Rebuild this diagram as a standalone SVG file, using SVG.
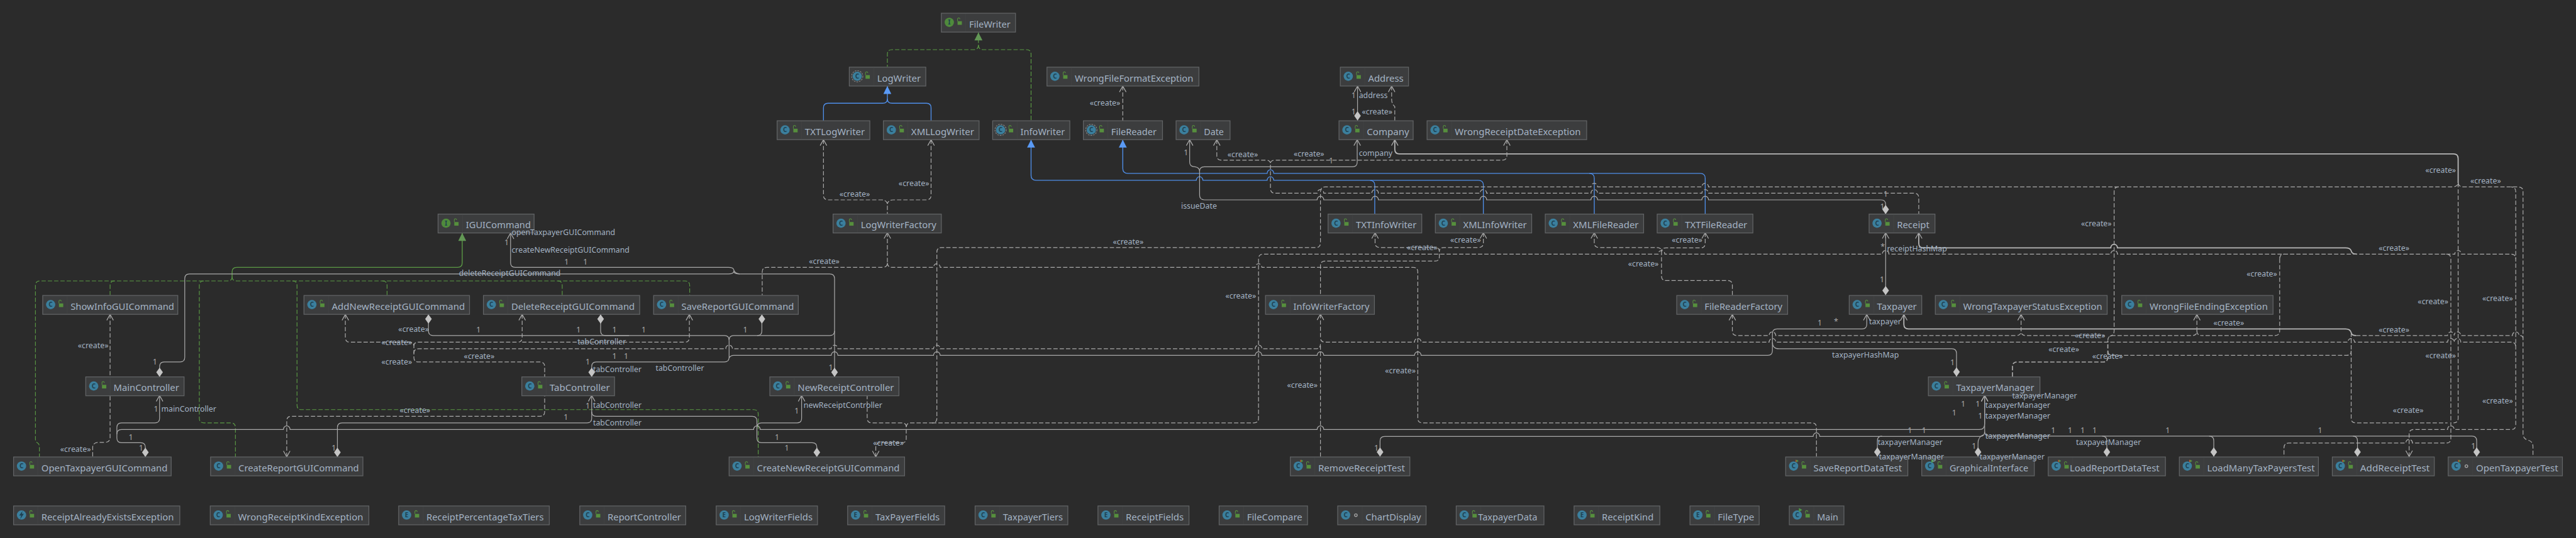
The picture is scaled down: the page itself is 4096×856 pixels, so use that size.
<svg xmlns="http://www.w3.org/2000/svg" width="4096" height="856" viewBox="0 0 4096 856">
<style>
text{font-family:"Noto Sans","Open Sans","Liberation Sans",sans-serif}
.n{fill:#3c3d3e;stroke:#626466;stroke-width:2.4}
.t{font-size:29px;fill:#a4b3c4}
.l{font-size:23.5px;fill:#a4b3c4}
.o{font-size:23.5px;fill:#a9a9a9;text-anchor:middle}
.k{font-size:19px;fill:#1e3f50;text-anchor:middle;font-weight:700}
path{fill:none}
.e{stroke:#a9a9a9;stroke-width:2.3}
.e3{stroke:#b8b8b8;stroke-width:3.4}
.d{stroke:#a9a9a9;stroke-width:2.3;stroke-dasharray:13 6}
.b{stroke:#4f8ee8;stroke-width:2.6}
.g{stroke:#5b9a45;stroke-width:2.6}
.gd{stroke:#5b9a45;stroke-width:2.2;stroke-dasharray:13 6}
.oa{marker-start:url(#oa)}
.di{marker-start:url(#di)}
.tb{marker-start:url(#tb)}
.tg{marker-start:url(#tg)}
</style>
<defs>
<marker id="oa" markerUnits="userSpaceOnUse" orient="auto" refX="0" refY="12" markerWidth="24" markerHeight="24" viewBox="0 0 24 24"><path d="M18 2L0 12L18 22" stroke="#b0b0b0" stroke-width="2.2" fill="none"/></marker>
<marker id="di" markerUnits="userSpaceOnUse" orient="auto" refX="0" refY="11" markerWidth="30" markerHeight="22" viewBox="0 0 30 22"><path d="M0 11L14 1L28 11L14 21Z" style="fill:#c4c4c4"/></marker>
<marker id="tb" markerUnits="userSpaceOnUse" orient="auto" refX="0" refY="12" markerWidth="26" markerHeight="24" viewBox="0 0 26 24"><path d="M0 12L24 0V24Z" style="fill:#5a9af5"/></marker>
<marker id="tg" markerUnits="userSpaceOnUse" orient="auto" refX="0" refY="12" markerWidth="26" markerHeight="24" viewBox="0 0 26 24"><path d="M0 12L24 0V24Z" style="fill:#629755"/></marker>
<g id="lk"><path d="M74 2V55" stroke="#434445" stroke-width="1.500"/><rect x="49" y="24" width="13" height="11" fill="#568f3d"/><path d="M49 24V18Q49 14 52.500 14Q56 14 56 18" stroke="#568f3d" stroke-width="2"/></g>
<g id="pk"><path d="M74 2V55" stroke="#434445" stroke-width="1.500"/><circle cx="55" cy="28" r="4" fill="none" stroke="#a9a9a9" stroke-width="2.500"/></g>
<g id="ic"><circle cx="24" cy="27.500" r="14" fill="#3b7f9d"/><text class="k" x="24" y="34">C</text></g>
<g id="ia"><circle cx="24" cy="27.500" r="14" fill="#3b7f9d"/><circle cx="24" cy="27.500" r="17" fill="none" stroke="#8a8a8a" stroke-width="2" stroke-dasharray="5 3"/><text class="k" x="24" y="34">C</text></g>
<g id="ii"><circle cx="24" cy="27.500" r="14" fill="#4f8a3c"/><text class="k" x="24" y="34">I</text></g>
<g id="ie"><circle cx="24" cy="27.500" r="14" fill="#3b7f9d"/><text class="k" x="24" y="34">E</text></g>
<g id="ix"><circle cx="24" cy="27.500" r="14" fill="#3b7f9d"/><path d="M27 15L17 29H23L20 40L31 24H25Z" style="fill:#1e3f50"/></g>
<g id="it"><circle cx="24" cy="27.500" r="14" fill="#3b7f9d"/><text class="k" x="24" y="34">C</text><path d="M30 8V16L35 12Z" style="fill:#c75c2c"/><path d="M33 8V16L39 12Z" style="fill:#4e9a47"/></g>
<g id="im"><circle cx="24" cy="27.500" r="14" fill="#3b7f9d"/><text class="k" x="24" y="34">C</text><path d="M29 6V18L39 12Z" style="fill:#4e9a47"/></g>
</defs>
<rect width="4096" height="856" fill="#2b2b2b"/>
<g transform="scale(.52648)">
<g id="connectors">
<path class="gd tg" d="M2955 98V136Q2955 150 2941 150H2694Q2680 150 2680 164V202"/>
<path class="gd" d="M2955 136Q2955 150 2969 150H3100Q3114 150 3114 164V364"/>
<path class="g tg" d="M1396 704V794Q1396 808 1382 808H715Q701 808 701 822V836"/>
<path class="gd" d="M701 836Q701 849 687 849H121Q107 849 107 863V1326Q107 1336 113 1338Q119 1342 119 1350V1381"/>
<path class="gd" d="M346 849Q332.500 849 332.500 863V892"/>
<path class="gd" d="M616 849Q602 849 602 863V1264Q602 1278 616 1278H697Q711 1278 711 1292V1381"/>
<path class="gd" d="M701 836Q701 849 715 849H2069Q2083 849 2083 863V892"/>
<path class="gd" d="M883 849Q897 849 897 863V1224Q897 1238 911 1238H2276Q2290 1238 2290 1252V1381"/>
<path class="gd" d="M1155 849Q1169 849 1169 863V892"/>
<path class="gd" d="M1684 849Q1698 849 1698 863V892"/>
<path class="b tb" d="M2680 260V298Q2680 312 2666 312H2501Q2487 312 2487 326V364"/>
<path class="b" d="M2680 298Q2680 312 2694 312H2798Q2812 312 2812 326V364"/>
<path class="b tb" d="M3114 422V530Q3114 545 3129 545H3613a10 11 0 0 1 20 0H3827a10 11 0 0 1 20 0H4136Q4152 545 4152 560V647"/>
<path class="b" d="M4138 545H4465Q4480 545 4480 560V647"/>
<path class="b tb" d="M3391 422V509Q3391 524 3406 524H3827a10 11 0 0 1 20 0H5135Q5150 524 5150 539V647"/>
<path class="b" d="M4800 524Q4815 524 4815 539V647"/>
<path class="e oa" d="M4100 260V336"/>
<path class="e di" d="M4100 364V336"/>
<path class="e oa" d="M1542 704V794Q1542 808 1556 808H2200Q2214 808 2216 815Q2218 826 2234 828"/>
<path class="e di" d="M482 1139V1108Q482 1094 496 1094H544Q558 1094 558 1080V842Q558 828 572 828H2200Q2214 828 2216 821Q2218 828 2234 828"/>
<path class="e di" d="M2520.500 1139V842Q2520.500 828 2506 828H2234"/>
<path class="e di" d="M1294 950V1000Q1294 1014 1308 1014H2188Q2202 1014 2202 1028"/>
<path class="e di" d="M1787 1139V1108Q1787 1094 1801 1094H2188Q2202 1094 2202 1080V1028"/>
<path class="e di" d="M1814 950V1000Q1814 1014 1828 1014H1900"/>
<path class="e di" d="M2301 950V1000Q2301 1014 2287 1014H2216Q2202 1014 2202 1028"/>
<path class="e" d="M2287 1014H2506Q2520.500 1014 2520.500 1000"/>
<path class="e oa" d="M5638 950V980Q5638 994 5624 994H5367Q5353 994 5353 1008V1060Q5353 1074 5339 1074H4292a10 11 0 0 0-20 0H3998a10 11 0 0 0-20 0H3811a10 11 0 0 0-20 0H2839.500a10 11 0 0 0-20 0H2530.500a10 11 0 0 0-20 0H2216Q2206 1074 2202 1082"/>
<path class="e di" d="M5909 1138V1068Q5909 1054 5895 1054H5373Q5353 1054 5353 1034"/>
<path class="e3 oa" d="M5750 950V980Q5750 994 5764 994H7084Q7098 994 7101 1005Q7102 1014 7116 1014"/>
<path class="e3 oa" d="M5795 703V735Q5795 749 5809 749H6375a10 11 0 0 1 20 0H7084Q7098 749 7101 758Q7103 768 7118 768"/>
<path class="e3 oa" d="M4212.500 422V451Q4212.500 465 4226 465H7410Q7424 465 7424 479V553"/>
<path class="e di" d="M5695 647V618Q5695 604 5681 604H5160a10 11 0 0 0-20 0H4825a10 11 0 0 0-20 0H4490a10 11 0 0 0-20 0H4163a10 11 0 0 0-20 0H3998a10 11 0 0 0-20 0H3637Q3623 604 3623 590V518"/>
<path class="e oa" d="M4099 422V490Q4099 504 4085 504H3637Q3623 504 3623 518"/>
<path class="e oa" d="M3593 422V490Q3593 504 3609 504Q3623 506 3623 518"/>
<path class="e di" d="M5695 892V703"/>
<path class="e oa" d="M5695 703V720"/>
<path class="e di" d="M4168 1380V1333Q4168 1319 4182 1319H5476a10 11 0 0 1 20 0H5980Q5994 1319 5994 1304"/>
<path class="e di" d="M7480 1380V1332Q7480 1318 7466 1318H6008Q5994 1318 5994 1304"/>
<path class="e di" d="M5670 1380V1332Q5670 1318 5684 1318"/>
<path class="e di" d="M5974 1380V1340Q5974 1320 5990 1314"/>
<path class="e di" d="M6363 1380V1332Q6363 1318 6349 1318"/>
<path class="e di" d="M6686 1380V1332Q6686 1318 6672 1318"/>
<path class="e di" d="M7120 1380V1332Q7120 1318 7106 1318"/>
<path class="e oa" d="M5994 1195V1280Q5994 1298 5978 1298H3998a10 11 0 0 0-20 0H2296a10 11 0 0 0-20 0H876a10 11 0 0 0-20 0H367Q353 1298 353 1312"/>
<path class="e oa" d="M5994 1195V1304"/>
<path class="e di" d="M1019 1381V1292"/>
<path class="e oa" d="M1787 1195V1264Q1787 1278 1773 1278H1033Q1019 1278 1019 1292"/>
<path class="e di" d="M2467 1381V1352Q2467 1338 2453 1338H2300Q2286 1338 2286 1324V1272Q2286 1258 2272 1258H1801Q1787 1258 1787 1244"/>
<path class="e oa" d="M2421 1195V1264Q2421 1278 2407 1278H2300Q2286 1278 2286 1292"/>
<path class="e di" d="M439 1381V1352Q439 1338 425 1338H367Q353 1338 353 1324V1292Q353 1278 367 1278H468Q482 1278 482 1264V1212"/>
<path class="e oa" d="M482 1195V1212"/>
<path class="d oa" d="M3391 260V364"/>
<path class="d oa" d="M4203 260V300Q4203 314 4212.500 322V364"/>
<path class="d oa" d="M2487 422V590Q2487 604 2501 604H2662Q2677 604 2680 616V647"/>
<path class="d oa" d="M2812 422V590Q2812 604 2798 604H2698Q2683 604 2680 616"/>
<path class="d oa" d="M3675 422V470Q3675 484 3689 484H3823Q3837 484 3837 495"/>
<path class="d oa" d="M4551 422V470Q4551 484 4537 484H3851Q3837 484 3837 495V569Q3837 584 3851 584H3978a10 11 0 0 1 20 0H4143a10 11 0 0 1 20 0H4470a10 11 0 0 1 20 0H4805a10 11 0 0 1 20 0H5140a10 11 0 0 1 20 0H5781Q5795 584 5795 598V647"/>
<path class="d oa" d="M332.500 950V1322Q332.500 1336 318 1337H296Q280 1338 280 1352V1381"/>
<path class="d oa" d="M1043 950V1020Q1043 1034 1057 1034H1236Q1250 1034 1250 1045V1080Q1250 1094 1264 1094H1631Q1645 1094 1645 1108V1139"/>
<path class="d oa" d="M1577 950V1020Q1577 1034 1563 1034H1264Q1250 1034 1250 1045"/>
<path class="d oa" d="M2082 950V1020Q2082 1034 2068 1034H1577"/>
<path class="d" d="M1250 1068Q1250 1054 1264 1054H2192a10 11 0 0 1 20 0H2510.500a10 11 0 0 1 20 0H2819.500a10 11 0 0 1 20 0H3791a10 11 0 0 1 20 0H3974Q3988 1054 3988 1040"/>
<path class="d oa" d="M866 1381V1272Q866 1258 880 1258H1631Q1645 1258 1645 1244V1195"/>
<path class="d oa" d="M2680 703V794Q2680 808 2666 808H2316Q2302 808 2302 822V892"/>
<path class="d" d="M2680 794Q2680 808 2694 808H2819.500a10 11 0 0 1 20 0H3791a10 11 0 0 1 20 0H4268Q4282 808 4282 822V1264Q4282 1278 4296 1278H5472Q5486 1278 5486 1292V1380"/>
<path class="d oa" d="M2645 1381V1352Q2645 1338 2659 1338H2725Q2737 1338 2737 1325V1292Q2737 1278 2751 1278H2815Q2829.500 1278 2829.500 1264V762Q2829.500 748 2843 748H3974Q3988 748 3988 734V579Q3988 565 4002 565H4805a10 11 0 0 1 20 0H5140a10 11 0 0 1 20 0H7406Q7422 565 7424 553"/>
<path class="d" d="M2737 1290Q2737 1278 2723 1278H2633Q2619 1278 2619 1264V1195"/>
<path class="d" d="M2815 1278H3787Q3801 1278 3801 1264V782Q3801 768 3815 768H5008a10 11 0 0 1 20 0H5685a10 11 0 0 1 20 0H6375a10 11 0 0 1 20 0H7388Q7402 768 7402 782V1325Q7402 1339 7388 1339H7286a10 11 0 0 0-20 0H6912Q6898 1339 6898 1353V1380"/>
<path class="d" d="M7388 768H7414a10 11 0 0 1 20 0H7584Q7598 768 7598 782"/>
<path class="d" d="M6399 565Q6385 565 6385 579V1000Q6385 1014 6372 1016"/>
<path class="d" d="M7424 553Q7426 565 7440 565H7606Q7620 565 7620 579V1310Q7620 1326 7634 1330Q7650 1333 7650 1350V1380"/>
<path class="d" d="M7424 553V1264Q7424 1278 7410 1278"/>
<path class="d" d="M6885 782Q6885 768 6899 768"/>
<path class="d" d="M6885 782V1000Q6885 1014 6871 1014H6649"/>
<path class="d oa" d="M6635 950V1000Q6635 1014 6621 1014H6380Q6366 1014 6366 1030"/>
<path class="d" d="M6635 1000Q6635 1014 6649 1014"/>
<path class="d oa" d="M6104 950V1000Q6104 1014 6118 1014H6356"/>
<path class="d oa" d="M5232 950V1000Q5232 1014 5246 1014H5343a10 11 0 0 1 20 0H6090Q6104 1014 6104 1000"/>
<path class="d" style="stroke-width:3.200" d="M6078 1138V1108Q6078 1094 6092 1094H6352Q6366 1094 6366 1080V1030"/>
<path class="d" d="M6366 1060Q6366 1074 6380 1074H7087Q7101 1074 7101 1060"/>
<path class="d" d="M7101 1005V1264Q7101 1278 7115 1278H7392"/>
<path class="d oa" d="M7276 1380V1312Q7276 1298 7290 1298H7392a10 11 0 0 1 20 0H7584Q7598 1298 7598 1284V579Q7598 565 7584 565"/>
<path class="d" d="M7116 1014H7392a10 11 0 0 1 20 0a10 11 0 0 1 20 0H7588a10 11 0 0 1 20 0H7612Q7618 1014 7620 1022"/>
<path class="d oa" d="M3988 949V1020Q3988 1034 4002 1034H4272a10 11 0 0 1 20 0H5343a10 11 0 0 1 20 0H7091a10 11 0 0 1 20 0H7392a10 11 0 0 1 20 0a10 11 0 0 1 20 0H7584Q7598 1034 7598 1048"/>
<path class="d" d="M3988 1380V1040"/>
<path class="d oa" d="M4153 703V734Q4153 748 4167 748H4334Q4347 748 4347 760V776Q4347 789 4334 789H4002Q3988 789 3988 803V892"/>
<path class="d oa" d="M4480 703V734Q4480 748 4466 748H4360Q4347 748 4347 760"/>
<path class="d oa" d="M4815 703V734Q4815 748 4829 748H5004Q5018 748 5018 760V834Q5018 848 5032 848H5218Q5232 848 5232 862V892"/>
<path class="d oa" d="M5150 703V735Q5150 749 5136 749H5032Q5018 749 5018 760"/>
</g>
<g id="nodes">
<g id="n-FileWriter" transform="translate(2843,40)"><rect class="n" width="224" height="57"/><use href="#ii"/><use href="#lk"/><text class="t" x="84" y="43" textLength="125" lengthAdjust="spacingAndGlyphs">FileWriter</text></g>
<g id="n-LogWriter" transform="translate(2565,203)"><rect class="n" width="231" height="57"/><use href="#ia"/><use href="#lk"/><text class="t" x="84" y="43" textLength="132" lengthAdjust="spacingAndGlyphs">LogWriter</text></g>
<g id="n-WrongFileFormatException" transform="translate(3162,203)"><rect class="n" width="459" height="57"/><use href="#ic"/><use href="#lk"/><text class="t" x="84" y="43" textLength="358" lengthAdjust="spacingAndGlyphs">WrongFileFormatException</text></g>
<g id="n-Address" transform="translate(4048,203)"><rect class="n" width="206" height="57"/><use href="#ic"/><use href="#lk"/><text class="t" x="84" y="43" textLength="107" lengthAdjust="spacingAndGlyphs">Address</text></g>
<g id="n-TXTLogWriter" transform="translate(2347,365)"><rect class="n" width="280" height="57"/><use href="#ic"/><use href="#lk"/><text class="t" x="84" y="43" textLength="181" lengthAdjust="spacingAndGlyphs">TXTLogWriter</text></g>
<g id="n-XMLLogWriter" transform="translate(2668,365)"><rect class="n" width="289" height="57"/><use href="#ic"/><use href="#lk"/><text class="t" x="84" y="43" textLength="190" lengthAdjust="spacingAndGlyphs">XMLLogWriter</text></g>
<g id="n-InfoWriter" transform="translate(2998,365)"><rect class="n" width="233" height="57"/><use href="#ia"/><use href="#lk"/><text class="t" x="84" y="43" textLength="134" lengthAdjust="spacingAndGlyphs">InfoWriter</text></g>
<g id="n-FileReader" transform="translate(3272,365)"><rect class="n" width="239" height="57"/><use href="#ia"/><use href="#lk"/><text class="t" x="84" y="43" textLength="137" lengthAdjust="spacingAndGlyphs">FileReader</text></g>
<g id="n-Date" transform="translate(3552,365)"><rect class="n" width="163" height="57"/><use href="#ic"/><use href="#lk"/><text class="t" x="84" y="43" textLength="60" lengthAdjust="spacingAndGlyphs">Date</text></g>
<g id="n-Company" transform="translate(4044,365)"><rect class="n" width="224" height="57"/><use href="#ic"/><use href="#lk"/><text class="t" x="84" y="43" textLength="128" lengthAdjust="spacingAndGlyphs">Company</text></g>
<g id="n-WrongReceiptDateException" transform="translate(4310,365)"><rect class="n" width="482" height="57"/><use href="#ic"/><use href="#lk"/><text class="t" x="84" y="43" textLength="380" lengthAdjust="spacingAndGlyphs">WrongReceiptDateException</text></g>
<g id="n-IGUICommand" transform="translate(1323,647)"><rect class="n" width="290" height="57"/><use href="#ii"/><use href="#lk"/><text class="t" x="84" y="43" textLength="196" lengthAdjust="spacingAndGlyphs">IGUICommand</text></g>
<g id="n-LogWriterFactory" transform="translate(2516,647)"><rect class="n" width="327" height="57"/><use href="#ic"/><use href="#lk"/><text class="t" x="84" y="43" textLength="228" lengthAdjust="spacingAndGlyphs">LogWriterFactory</text></g>
<g id="n-TXTInfoWriter" transform="translate(4011,647)"><rect class="n" width="283" height="57"/><use href="#ic"/><use href="#lk"/><text class="t" x="84" y="43" textLength="183" lengthAdjust="spacingAndGlyphs">TXTInfoWriter</text></g>
<g id="n-XMLInfoWriter" transform="translate(4335,647)"><rect class="n" width="291" height="57"/><use href="#ic"/><use href="#lk"/><text class="t" x="84" y="43" textLength="192" lengthAdjust="spacingAndGlyphs">XMLInfoWriter</text></g>
<g id="n-XMLFileReader" transform="translate(4667,647)"><rect class="n" width="297" height="57"/><use href="#ic"/><use href="#lk"/><text class="t" x="84" y="43" textLength="198" lengthAdjust="spacingAndGlyphs">XMLFileReader</text></g>
<g id="n-TXTFileReader" transform="translate(5005,647)"><rect class="n" width="289" height="57"/><use href="#ic"/><use href="#lk"/><text class="t" x="84" y="43" textLength="188" lengthAdjust="spacingAndGlyphs">TXTFileReader</text></g>
<g id="n-Receipt" transform="translate(5645,647)"><rect class="n" width="199" height="57"/><use href="#ic"/><use href="#lk"/><text class="t" x="84" y="43" textLength="98" lengthAdjust="spacingAndGlyphs">Receipt</text></g>
<g id="n-ShowInfoGUICommand" transform="translate(129,893)"><rect class="n" width="408" height="57"/><use href="#ic"/><use href="#lk"/><text class="t" x="84" y="43" textLength="313" lengthAdjust="spacingAndGlyphs">ShowInfoGUICommand</text></g>
<g id="n-AddNewReceiptGUICommand" transform="translate(918,893)"><rect class="n" width="500" height="57"/><use href="#ic"/><use href="#lk"/><text class="t" x="84" y="43" textLength="402" lengthAdjust="spacingAndGlyphs">AddNewReceiptGUICommand</text></g>
<g id="n-DeleteReceiptGUICommand" transform="translate(1460,893)"><rect class="n" width="472" height="57"/><use href="#ic"/><use href="#lk"/><text class="t" x="84" y="43" textLength="373" lengthAdjust="spacingAndGlyphs">DeleteReceiptGUICommand</text></g>
<g id="n-SaveReportGUICommand" transform="translate(1974,893)"><rect class="n" width="437" height="57"/><use href="#ic"/><use href="#lk"/><text class="t" x="84" y="43" textLength="340" lengthAdjust="spacingAndGlyphs">SaveReportGUICommand</text></g>
<g id="n-InfoWriterFactory" transform="translate(3822,893)"><rect class="n" width="329" height="57"/><use href="#ic"/><use href="#lk"/><text class="t" x="84" y="43" textLength="230" lengthAdjust="spacingAndGlyphs">InfoWriterFactory</text></g>
<g id="n-FileReaderFactory" transform="translate(5064,893)"><rect class="n" width="335" height="57"/><use href="#ic"/><use href="#lk"/><text class="t" x="84" y="43" textLength="235" lengthAdjust="spacingAndGlyphs">FileReaderFactory</text></g>
<g id="n-Taxpayer" transform="translate(5585,893)"><rect class="n" width="219" height="57"/><use href="#ic"/><use href="#lk"/><text class="t" x="84" y="43" textLength="120" lengthAdjust="spacingAndGlyphs">Taxpayer</text></g>
<g id="n-WrongTaxpayerStatusException" transform="translate(5845,893)"><rect class="n" width="519" height="57"/><use href="#ic"/><use href="#lk"/><text class="t" x="84" y="43" textLength="420" lengthAdjust="spacingAndGlyphs">WrongTaxpayerStatusException</text></g>
<g id="n-WrongFileEndingException" transform="translate(6408,893)"><rect class="n" width="457" height="57"/><use href="#ic"/><use href="#lk"/><text class="t" x="84" y="43" textLength="357" lengthAdjust="spacingAndGlyphs">WrongFileEndingException</text></g>
<g id="n-MainController" transform="translate(259,1139)"><rect class="n" width="297" height="57"/><use href="#ic"/><use href="#lk"/><text class="t" x="84" y="43" textLength="198" lengthAdjust="spacingAndGlyphs">MainController</text></g>
<g id="n-TabController" transform="translate(1576,1139)"><rect class="n" width="280" height="57"/><use href="#ic"/><use href="#lk"/><text class="t" x="84" y="43" textLength="182" lengthAdjust="spacingAndGlyphs">TabController</text></g>
<g id="n-NewReceiptController" transform="translate(2325,1139)"><rect class="n" width="390" height="57"/><use href="#ic"/><use href="#lk"/><text class="t" x="84" y="43" textLength="291" lengthAdjust="spacingAndGlyphs">NewReceiptController</text></g>
<g id="n-TaxpayerManager" transform="translate(5824,1139)"><rect class="n" width="337" height="57"/><use href="#ic"/><use href="#lk"/><text class="t" x="84" y="43" textLength="236" lengthAdjust="spacingAndGlyphs">TaxpayerManager</text></g>
<g id="n-OpenTaxpayerGUICommand" transform="translate(41,1381)"><rect class="n" width="476" height="57"/><use href="#ic"/><use href="#lk"/><text class="t" x="84" y="43" textLength="381" lengthAdjust="spacingAndGlyphs">OpenTaxpayerGUICommand</text></g>
<g id="n-CreateReportGUICommand" transform="translate(636,1381)"><rect class="n" width="460" height="57"/><use href="#ic"/><use href="#lk"/><text class="t" x="84" y="43" textLength="364" lengthAdjust="spacingAndGlyphs">CreateReportGUICommand</text></g>
<g id="n-CreateNewReceiptGUICommand" transform="translate(2202,1381)"><rect class="n" width="530" height="57"/><use href="#ic"/><use href="#lk"/><text class="t" x="84" y="43" textLength="431" lengthAdjust="spacingAndGlyphs">CreateNewReceiptGUICommand</text></g>
<g id="n-RemoveReceiptTest" transform="translate(3897,1381)"><rect class="n" width="361" height="57"/><use href="#it"/><use href="#lk"/><text class="t" x="84" y="43" textLength="262" lengthAdjust="spacingAndGlyphs">RemoveReceiptTest</text></g>
<g id="n-SaveReportDataTest" transform="translate(5393,1381)"><rect class="n" width="369" height="57"/><use href="#it"/><use href="#lk"/><text class="t" x="84" y="43" textLength="267" lengthAdjust="spacingAndGlyphs">SaveReportDataTest</text></g>
<g id="n-GraphicalInterface" transform="translate(5804,1381)"><rect class="n" width="340" height="57"/><use href="#im"/><use href="#lk"/><text class="t" x="84" y="43" textLength="238" lengthAdjust="spacingAndGlyphs">GraphicalInterface</text></g>
<g id="n-LoadReportDataTest" transform="translate(6186,1381)"><rect class="n" width="354" height="57"/><use href="#it"/><use href="#lk"/><text class="t" x="65" y="43" textLength="271" lengthAdjust="spacingAndGlyphs">LoadReportDataTest</text></g>
<g id="n-LoadManyTaxPayersTest" transform="translate(6582,1381)"><rect class="n" width="420" height="57"/><use href="#it"/><use href="#lk"/><text class="t" x="84" y="43" textLength="325" lengthAdjust="spacingAndGlyphs">LoadManyTaxPayersTest</text></g>
<g id="n-AddReceiptTest" transform="translate(7044,1381)"><rect class="n" width="308" height="57"/><use href="#it"/><use href="#lk"/><text class="t" x="84" y="43" textLength="210" lengthAdjust="spacingAndGlyphs">AddReceiptTest</text></g>
<g id="n-OpenTaxpayerTest" transform="translate(7394,1381)"><rect class="n" width="345" height="57"/><use href="#it"/><use href="#pk"/><text class="t" x="84" y="43" textLength="248" lengthAdjust="spacingAndGlyphs">OpenTaxpayerTest</text></g>
<g id="n-ReceiptAlreadyExistsException" transform="translate(41,1529)"><rect class="n" width="502" height="57"/><use href="#ix"/><use href="#lk"/><text class="t" x="84" y="43" textLength="400" lengthAdjust="spacingAndGlyphs">ReceiptAlreadyExistsException</text></g>
<g id="n-WrongReceiptKindException" transform="translate(635,1529)"><rect class="n" width="479" height="57"/><use href="#ic"/><use href="#lk"/><text class="t" x="84" y="43" textLength="378" lengthAdjust="spacingAndGlyphs">WrongReceiptKindException</text></g>
<g id="n-ReceiptPercentageTaxTiers" transform="translate(1204,1529)"><rect class="n" width="455" height="57"/><use href="#ie"/><use href="#lk"/><text class="t" x="84" y="43" textLength="354" lengthAdjust="spacingAndGlyphs">ReceiptPercentageTaxTiers</text></g>
<g id="n-ReportController" transform="translate(1751,1529)"><rect class="n" width="320" height="57"/><use href="#ic"/><use href="#lk"/><text class="t" x="84" y="43" textLength="222" lengthAdjust="spacingAndGlyphs">ReportController</text></g>
<g id="n-LogWriterFields" transform="translate(2163,1529)"><rect class="n" width="306" height="57"/><use href="#ie"/><use href="#lk"/><text class="t" x="84" y="43" textLength="207" lengthAdjust="spacingAndGlyphs">LogWriterFields</text></g>
<g id="n-TaxPayerFields" transform="translate(2560,1529)"><rect class="n" width="293" height="57"/><use href="#ie"/><use href="#lk"/><text class="t" x="84" y="43" textLength="194" lengthAdjust="spacingAndGlyphs">TaxPayerFields</text></g>
<g id="n-TaxpayerTiers" transform="translate(2945,1529)"><rect class="n" width="280" height="57"/><use href="#ic"/><use href="#lk"/><text class="t" x="84" y="43" textLength="181" lengthAdjust="spacingAndGlyphs">TaxpayerTiers</text></g>
<g id="n-ReceiptFields" transform="translate(3316,1529)"><rect class="n" width="275" height="57"/><use href="#ie"/><use href="#lk"/><text class="t" x="84" y="43" textLength="175" lengthAdjust="spacingAndGlyphs">ReceiptFields</text></g>
<g id="n-FileCompare" transform="translate(3682,1529)"><rect class="n" width="267" height="57"/><use href="#ic"/><use href="#lk"/><text class="t" x="84" y="43" textLength="167" lengthAdjust="spacingAndGlyphs">FileCompare</text></g>
<g id="n-ChartDisplay" transform="translate(4040,1529)"><rect class="n" width="267" height="57"/><use href="#ic"/><use href="#pk"/><text class="t" x="84" y="43" textLength="168" lengthAdjust="spacingAndGlyphs">ChartDisplay</text></g>
<g id="n-TaxpayerData" transform="translate(4398,1529)"><rect class="n" width="265" height="57"/><use href="#ic"/><use href="#lk"/><text class="t" x="66" y="43" textLength="179" lengthAdjust="spacingAndGlyphs">TaxpayerData</text></g>
<g id="n-ReceiptKind" transform="translate(4754,1529)"><rect class="n" width="259" height="57"/><use href="#ie"/><use href="#lk"/><text class="t" x="84" y="43" textLength="156" lengthAdjust="spacingAndGlyphs">ReceiptKind</text></g>
<g id="n-FileType" transform="translate(5104,1529)"><rect class="n" width="209" height="57"/><use href="#ie"/><use href="#lk"/><text class="t" x="84" y="43" textLength="110" lengthAdjust="spacingAndGlyphs">FileType</text></g>
<g id="n-Main" transform="translate(5404,1529)"><rect class="n" width="165" height="57"/><use href="#im"/><use href="#lk"/><text class="t" x="84" y="43" textLength="64" lengthAdjust="spacingAndGlyphs">Main</text></g>
</g>
<g id="labels">
<text class="l" x="3291" y="320">«create»</text><text class="l" x="3707" y="474">«create»</text><text class="l" x="3907" y="473">«create»</text>
<text class="l" x="4113" y="346">«create»</text><text class="l" x="2714" y="563">«create»</text><text class="l" x="2535" y="594">«create»</text>
<text class="l" x="2443" y="798">«create»</text><text class="l" x="3361" y="738">«create»</text><text class="l" x="3701" y="902">«create»</text>
<text class="l" x="3887" y="1172">«create»</text><text class="l" x="4183" y="1128">«create»</text><text class="l" x="2637" y="1346">«create»</text>
<text class="l" x="235" y="1052">«create»</text><text class="l" x="182" y="1366">«create»</text><text class="l" x="1203" y="1002">«create»</text>
<text class="l" x="1152" y="1042">«create»</text><text class="l" x="1152" y="1102">«create»</text><text class="l" x="1401" y="1084">«create»</text>
<text class="l" x="1207" y="1248">«create»</text><text class="l" x="4380" y="734">«create»</text><text class="l" x="4249" y="756">«create»</text>
<text class="l" x="5049" y="734">«create»</text><text class="l" x="4917" y="806">«create»</text><text class="l" x="7325" y="522">«create»</text>
<text class="l" x="7461" y="554">«create»</text><text class="l" x="7184" y="758">«create»</text><text class="l" x="6785" y="836">«create»</text>
<text class="l" x="7302" y="919">«create»</text><text class="l" x="7497" y="909">«create»</text><text class="l" x="6685" y="984">«create»</text>
<text class="l" x="7184" y="1004">«create»</text><text class="l" x="7325" y="1082">«create»</text><text class="l" x="7497" y="1219">«create»</text>
<text class="l" x="7227" y="1248">«create»</text><text class="l" x="6319" y="1084">«create»</text><text class="l" x="6266" y="1022">«create»</text>
<text class="l" x="6187" y="1063">«create»</text><text class="l" x="6285" y="683">«create»</text>
<text class="l" x="4104" y="297">address</text><text class="l" x="4104" y="472">company</text><text class="l" x="3567" y="630">issueDate</text>
<text class="l" x="1545" y="711">openTaxpayerGUICommand</text><text class="l" x="1545" y="764">createNewReceiptGUICommand</text><text class="l" x="1386" y="834">deleteReceiptGUICommand</text>
<text class="l" x="1744" y="1040">tabController</text><text class="l" x="1791" y="1124">tabController</text><text class="l" x="1980" y="1120">tabController</text>
<text class="l" x="1791" y="1232">tabController</text><text class="l" x="1791" y="1286">tabController</text>
<text class="l" x="487" y="1245">mainController</text><text class="l" x="2427" y="1232">newReceiptController</text>
<text class="l" x="5699" y="759">receiptHashMap</text><text class="l" x="5645" y="980">taxpayer</text><text class="l" x="5533" y="1080">taxpayerHashMap</text>
<text class="l" x="6077" y="1204">taxpayerManager</text><text class="l" x="5996" y="1233">taxpayerManager</text><text class="l" x="5996" y="1265">taxpayerManager</text>
<text class="l" x="5996" y="1326">taxpayerManager</text><text class="l" x="5671" y="1344">taxpayerManager</text><text class="l" x="5675" y="1389">taxpayerManager</text>
<text class="l" x="5979" y="1389">taxpayerManager</text><text class="l" x="6270" y="1344">taxpayerManager</text>
<text class="o" x="3582" y="470">1</text><text class="o" x="4020" y="494">1</text><text class="o" x="4088" y="296">1</text><text class="o" x="4088" y="346">1</text>
<text class="o" x="1530" y="740">1</text><text class="o" x="1711" y="799">1</text><text class="o" x="1768" y="799">1</text>
<text class="o" x="1445" y="1005">1</text><text class="o" x="1747" y="1005">1</text><text class="o" x="1856" y="1005">1</text><text class="o" x="1944" y="1005">1</text><text class="o" x="2251" y="1005">1</text>
<text class="o" x="1856" y="1084">1</text><text class="o" x="1891" y="1084">1</text><text class="o" x="1775" y="1101">1</text><text class="o" x="1775" y="1235">1</text><text class="o" x="1709" y="1269">1</text>
<text class="o" x="2347" y="1329">1</text><text class="o" x="2376" y="1361">1</text><text class="o" x="2406" y="1249">1</text><text class="o" x="2509" y="1119">1</text>
<text class="o" x="468" y="1102">1</text><text class="o" x="471" y="1245">1</text><text class="o" x="395" y="1329">1</text><text class="o" x="426" y="1361">1</text><text class="o" x="1008" y="1361">1</text>
<text class="o" x="4157" y="1361">1</text><text class="o" x="5686" y="755">*</text><text class="o" x="5684" y="852">1</text><text class="o" x="5695" y="594">1</text><text class="o" x="5685" y="633">1</text>
<text class="o" x="5496" y="984">1</text><text class="o" x="5545" y="980">*</text><text class="o" x="5897" y="1104">1</text>
<text class="o" x="5929" y="1229">1</text><text class="o" x="5973" y="1229">1</text><text class="o" x="5902" y="1255">1</text><text class="o" x="5981" y="1265">1</text>
<text class="o" x="5768" y="1308">1</text><text class="o" x="5811" y="1308">1</text><text class="o" x="5962" y="1356">1</text>
<text class="o" x="6201" y="1308">1</text><text class="o" x="6252" y="1308">1</text><text class="o" x="6290" y="1308">1</text><text class="o" x="6326" y="1308">1</text>
<text class="o" x="6547" y="1308">1</text><text class="o" x="7007" y="1308">1</text><text class="o" x="7470" y="1356">1</text>
</g>
</g>
</svg>
